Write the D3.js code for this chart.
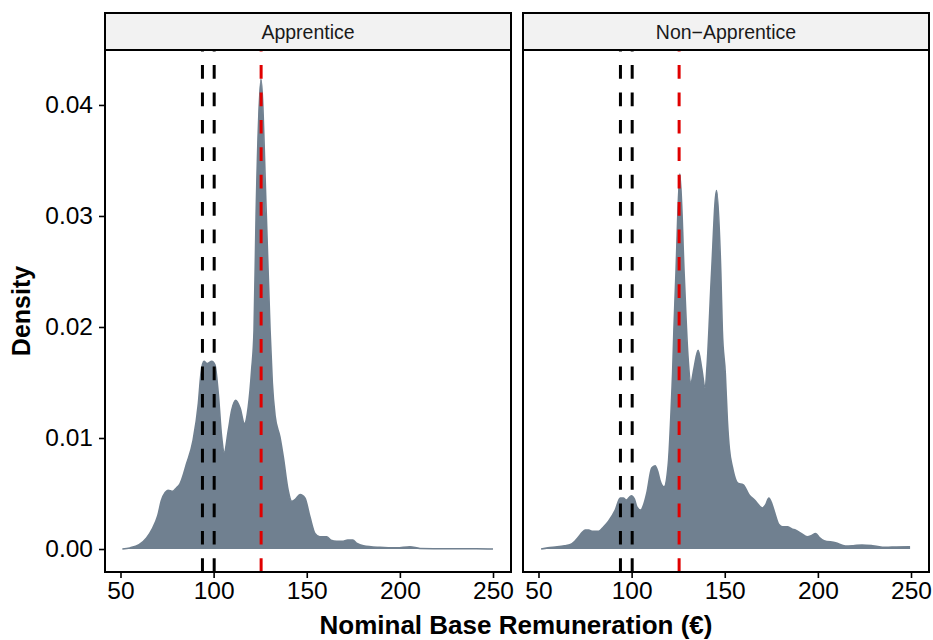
<!DOCTYPE html>
<html><head><meta charset="utf-8">
<script src="https://cdn.jsdelivr.net/npm/d3@7"></script>
<style>body{margin:0;background:#fff} text{font-family:"Liberation Sans",Arial,Helvetica,sans-serif}</style>
</head><body><svg id="c" width="933" height="640"></svg>
<script>
const panels = ["Apprentice", "Non\u2212Apprentice"];
const apprentice = [[51,0],[55,0.0001],[60,0.0004],[64,0.0010],[67,0.0018],[70,0.0030],[72,0.0044],[74,0.0051],[75.5,0.0053],[78,0.0052],[80,0.0055],[82,0.0059],[85.5,0.0077],[89,0.0098],[91.8,0.0131],[93.2,0.0158],[94.8,0.0169],[96.6,0.0167],[99,0.0169],[100.7,0.0166],[102.5,0.0140],[104.3,0.0101],[105.7,0.0087],[107.9,0.0107],[109.7,0.0125],[111.8,0.0134],[114.2,0.0127],[116.5,0.0113],[118.6,0.0128],[120.4,0.0161],[121.7,0.0197],[122.8,0.0300],[125.4,0.0423],[128.3,0.0300],[130.3,0.0197],[131.5,0.0150],[133,0.0120],[135.6,0.0101],[137.4,0.0083],[140,0.0053],[141.9,0.0043],[144,0.0045],[146.4,0.0049],[149,0.0046],[151.7,0.0029],[154.4,0.0014],[157,0.0011],[160.7,0.0011],[163,0.0008],[166,0.0007],[169,0.0007],[172,0.0008],[174.7,0.0008],[177,0.0005],[180.4,0.0003],[189.3,0.00015],[198.3,0.0001],[205.4,0.0002],[210.8,0.00005],[225,0.00002],[241,0.00003],[250,0.0]];
const nonApprentice = [[51.4,0],[55,0.0001],[60,0.0002],[64,0.0003],[67.1,0.0004],[69.5,0.0007],[71.6,0.0011],[73.5,0.0015],[75.1,0.0017],[77,0.0017],[78.7,0.0016],[82.3,0.0016],[85,0.0020],[87.6,0.0025],[91.2,0.0035],[93.9,0.0046],[95.5,0.0046],[97.1,0.0044],[99.8,0.0048],[101.5,0.0045],[102.8,0.0038],[104.9,0.0035],[106.5,0.0040],[108.1,0.0050],[110.8,0.0073],[112.6,0.0075],[114,0.0070],[115.2,0.0062],[117.4,0.0056],[119.7,0.0077],[121.5,0.0137],[122.0,0.0158],[122.7,0.0197],[123.8,0.0248],[125.9,0.0338],[128.2,0.0248],[130.2,0.0175],[131.8,0.0150],[133.5,0.0163],[135.7,0.0179],[137.6,0.0163],[139.5,0.0145],[140.5,0.0165],[142.9,0.0248],[145.6,0.0323],[147.9,0.0248],[148.7,0.0197],[150.3,0.0158],[151.4,0.0116],[152.5,0.0090],[154.1,0.0074],[156,0.0062],[157.3,0.0059],[159.8,0.0058],[163,0.0049],[166,0.0044],[170.2,0.0037],[172,0.0040],[173.7,0.0046],[175,0.0042],[176.4,0.0035],[179.1,0.0022],[181,0.0020],[183.6,0.0020],[186,0.0018],[188.1,0.0017],[191,0.0014],[194.3,0.0011],[196.5,0.0012],[198.8,0.0014],[201,0.0010],[203.3,0.00075],[209.5,0.00057],[214.8,0.00027],[219,0.0003],[223.7,0.00036],[229.3,0.0003],[236.4,0.00015],[242,0.00018],[248.9,0.0002],[249.5,0.0002]];
const blackLines = [94, 100.3];
const redLines = [125.5];
const xTicks = [50, 100, 150, 200, 250];
const yTicks = [0, 0.01, 0.02, 0.03, 0.04];
const yTickLabels = ["0.00", "0.01", "0.02", "0.03", "0.04"];
const xTitle = "Nominal Base Remuneration (\u20ac)";
const yTitle = "Density";

const series = [apprentice, nonApprentice];
const svg = d3.select("#c");
const stripTop = 13, panelTop = 50, panelBottom = 572;
const panelX = [[105, 511], [523, 929]];
const xDomain = [41.68, 259.66];
const y = d3.scaleLinear().domain([-0.00207, 0.04495]).range([panelBottom, panelTop]);
const fillCol = "#708090";
const FONT = '"Liberation Sans",Arial,Helvetica,sans-serif';

panels.forEach((name, i) => {
  const [x0, x1] = panelX[i];
  const x = d3.scaleLinear().domain(xDomain).range([x0, x1]);
  const g = svg.append("g");
  const clipId = "clip" + i;
  svg.append("clipPath").attr("id", clipId).append("rect")
    .attr("x", x0).attr("y", panelTop).attr("width", x1 - x0).attr("height", panelBottom - panelTop);
  const pg = g.append("g").attr("clip-path", `url(#${clipId})`);
  const area = d3.area().x(d => x(d[0])).y0(y(0)).y1(d => y(d[1])).curve(d3.curveMonotoneX);
  const line = d3.line().x(d => x(d[0])).y(d => y(d[1])).curve(d3.curveMonotoneX);
  pg.append("path").datum(series[i]).attr("d", area).attr("fill", fillCol);
  pg.append("path").datum(series[i]).attr("d", line).attr("fill", "none")
    .attr("stroke", fillCol).attr("stroke-width", 1.6);
  const vl = (vals, col) => pg.selectAll(null).data(vals).enter().append("line")
    .attr("x1", d => x(d)).attr("x2", d => x(d)).attr("y1", panelBottom).attr("y2", panelTop)
    .attr("stroke", col).attr("stroke-width", 3).attr("stroke-dasharray", "13.7,13.7");
  vl(blackLines, "#000");
  vl(redLines, "#e00000");
  g.append("rect").attr("x", x0).attr("y", panelTop).attr("width", x1 - x0).attr("height", panelBottom - panelTop)
    .attr("fill", "none").attr("stroke", "#000").attr("stroke-width", 2);
  g.append("rect").attr("x", x0).attr("y", stripTop).attr("width", x1 - x0).attr("height", panelTop - stripTop)
    .attr("fill", "#f2f2f2").attr("stroke", "#000").attr("stroke-width", 2);
  g.append("text").attr("x", (x0 + x1) / 2).attr("y", 38.5).attr("text-anchor", "middle")
    .attr("font-size", 19.5).attr("fill", "#1a1a1a").text(name);
  const xa = g.append("g").attr("transform", `translate(0,${panelBottom})`)
    .call(d3.axisBottom(x).tickValues(xTicks).tickSize(6).tickPadding(4).tickFormat(d3.format("d")));
  xa.select(".domain").remove();
  xa.selectAll(".tick line").attr("stroke", "#000").attr("stroke-width", 1.6);
  xa.selectAll(".tick text").attr("font-size", 24.5).attr("fill", "#000").attr("font-family", FONT);
  if (i === 0) {
    const ya = g.append("g").attr("transform", `translate(${x0},0)`)
      .call(d3.axisLeft(y).tickValues(yTicks).tickSize(6).tickPadding(6).tickFormat((d, k) => yTickLabels[k]));
    ya.select(".domain").remove();
    ya.selectAll(".tick line").attr("stroke", "#000").attr("stroke-width", 1.6);
    ya.selectAll(".tick text").attr("font-size", 24.5).attr("fill", "#000").attr("font-family", FONT);
  }
});

svg.append("text").attr("x", 516).attr("y", 634).attr("text-anchor", "middle")
  .attr("font-size", 26).attr("font-weight", "bold").attr("fill", "#000").text(xTitle);
svg.append("text").attr("transform", `translate(30,${(panelTop + panelBottom) / 2}) rotate(-90)`)
  .attr("text-anchor", "middle").attr("font-size", 25).attr("font-weight", "bold")
  .attr("fill", "#000").text(yTitle);
</script></body></html>
